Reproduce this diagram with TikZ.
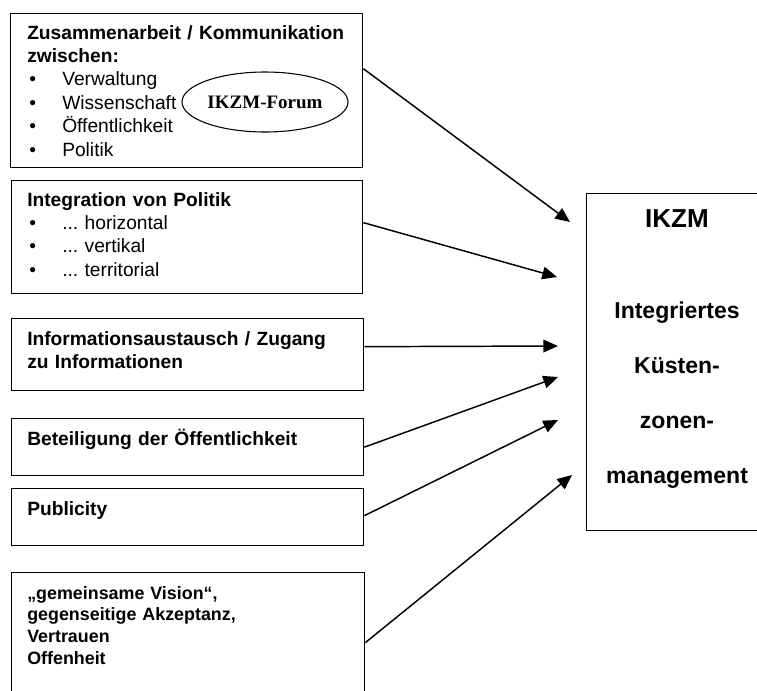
\documentclass[tikz,border=0pt]{standalone}
\usepackage{fontspec}
\setmainfont{Liberation Sans}
\newfontfamily\forumfont{Liberation Serif}
\usepackage{tikz}
\usetikzlibrary{arrows.meta,shapes.geometric}
\newdimen\px \px=0.75pt
\frenchspacing
\tikzstyle{box} = [draw, line width=1pt, rectangle, anchor=north west, inner sep=0]
\tikzstyle{boxtext} = [anchor=base west, inner sep=0, text width=330\px, align=left, font=\fontsize{14.4}{17.6}\selectfont\bfseries]
\tikzstyle{ikzmtext} = [anchor=base, inner sep=0, text width=170\px, align=center, font=\fontsize{17.25}{41.25}\selectfont\bfseries]
\tikzstyle{arrow} = [-{Triangle[length=11pt,width=9.5pt]}, line width=1.1pt]
\newcommand{\bul}{\makebox[26.25pt][l]{\hspace{1.5pt}\mdseries •}\mdseries}

\begin{document}
\begin{tikzpicture}[x=0.75pt, y=-0.75pt]
		\useasboundingbox (0,0) rectangle (757,690);
		\clip (0,0) rectangle (757,690);

		\node (zusammen) [box, minimum width=352\px, minimum height=154\px] at (10,13) {};
		\node (integration) [box, minimum width=351\px, minimum height=113\px] at (11,180) {};
		\node (info) [box, minimum width=352\px, minimum height=72\px] at (11,318) {};
		\node (beteiligung) [box, minimum width=352\px, minimum height=57\px] at (11,418) {};
		\node (publicity) [box, minimum width=352\px, minimum height=57\px] at (11,488) {};
		\node (vision) [box, minimum width=353\px, minimum height=133\px] at (11,572) {};
		\node (ikzm) [box, minimum width=182\px, minimum height=337\px] at (586,193) {};

		\node (zusammentext) [boxtext] at (27,39) {Zusammenarbeit / Kommunikation\\zwischen:\\\bul Verwaltung\\\bul Wissenschaft\\\bul Öffentlichkeit\\\bul Politik};
		\node (forum) [draw, ellipse, line width=0.8pt, minimum width=124.5pt, minimum height=45pt, inner sep=0, font=\forumfont\fontsize{14.25}{16}\selectfont\bfseries] at (265,102) {IKZM-Forum};
		\node (integrationtext) [boxtext] at (27,206) {Integration von Politik\\\bul ... horizontal\\\bul ... vertikal\\\bul ... territorial};
		\node (infotext) [boxtext] at (27,345) {Informationsaustausch / Zugang\\zu Informationen};
		\node (beteiligungtext) [boxtext] at (27,445) {Beteiligung der Öffentlichkeit};
		\node (publicitytext) [boxtext] at (27,515) {Publicity};
		\node (visiontext) [boxtext, font=\fontsize{13.4}{16.3}\selectfont\bfseries] at (27,599) {„gemeinsame Vision“,\\gegenseitige Akzeptanz,\\Vertrauen\\Offenheit};
		\node (ikzmtitle) [ikzmtext, font=\fontsize{19.5}{22}\selectfont\bfseries] at (677,227) {IKZM};
		\node (ikzmname) [ikzmtext] at (677,318) {Integriertes\\Küsten-\\zonen-\\management};

		\coordinate (tip1) at (570,222);
		\coordinate (tip2) at (557,277);
		\coordinate (tip3) at (558,346);
		\coordinate (tip4) at (558,377);
		\coordinate (tip5) at (558,420);
		\coordinate (tip6) at (572,475);

		\draw [arrow] ([yshift=16.5pt]zusammen.east) -- (tip1);
		\draw [arrow] ([yshift=10.9pt]integration.east) -- (tip2);
		\draw [arrow] ([yshift=6pt]info.east) -- (tip3);
		\draw [arrow] (beteiligung.east) -- (tip4);
		\draw [arrow] ([yshift=1.1pt]publicity.east) -- (tip5);
		\draw [arrow] ([yshift=-2.6pt]vision.east) -- (tip6);
	\end{tikzpicture}
\end{document}
